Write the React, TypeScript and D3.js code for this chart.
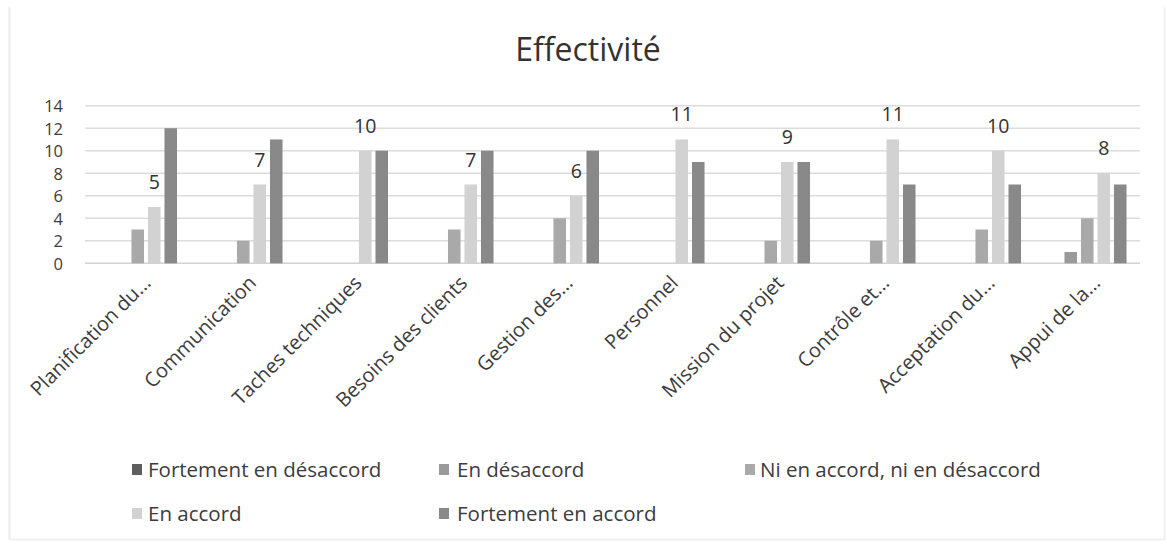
import React from 'react';
import * as d3 from 'd3';

const categories = [
  'Planification du...',
  'Communication',
  'Taches techniques',
  'Besoins des clients',
  'Gestion des...',
  'Personnel',
  'Mission du projet',
  'Contrôle et...',
  'Acceptation du...',
  'Appui de la...',
];
const seriesNames = [
  'Fortement en désaccord',
  'En désaccord',
  'Ni en accord, ni en désaccord',
  'En accord',
  'Fortement en accord',
];
const fortementEnDesaccord = [0, 0, 0, 0, 0, 0, 0, 0, 0, 0];
const enDesaccord = [0, 0, 0, 0, 0, 0, 0, 0, 0, 1];
const niEnAccordNiEnDesaccord = [3, 2, 0, 3, 4, 0, 2, 2, 3, 4];
const enAccord = [5, 7, 10, 7, 6, 11, 9, 11, 10, 8];
const fortementEnAccord = [12, 11, 10, 10, 10, 9, 9, 7, 7, 7];
const yTicks = [0, 2, 4, 6, 8, 10, 12, 14];
const labelledSeries = 3; // data labels on "En accord"

const seriesValues = [fortementEnDesaccord, enDesaccord, niEnAccordNiEnDesaccord, enAccord, fortementEnAccord];
const seriesColors = ['#5e5e5e', '#9a9a9a', '#a9a9a9', '#d2d2d2', '#898989'];

const FONT = "'Open Sans', 'DejaVu Sans', sans-serif";

export default function App() {
  const W = 1167;
  const H = 546;
  const plotLeft = 85;
  const plotRight = 1140;
  const plotTop = 105.7;
  const plotBottom = 263.3;

  const x0 = d3.scaleBand<string>().domain(categories).range([plotLeft, plotRight]).paddingInner(0.218).paddingOuter(0.109);
  const x1 = d3.scaleBand<string>().domain(seriesNames).range([0, x0.bandwidth()]).paddingInner(0.24).paddingOuter(0.12);
  const y = d3.scaleLinear().domain([0, 14]).range([plotBottom, plotTop]);

  const legendSwatchX = [132, 439, 745];
  const legendTextX = [148, 457, 760];
  const legendRows = [477, 521];

  return (
    <svg width={W} height={H} style={{ position: 'absolute', left: 0, top: 0, background: '#fff' }} fontFamily={FONT}>
      <rect x={0} y={0} width={W} height={H} fill="#fff" />
      <line x1={9.5} y1={7} x2={9.5} y2={540} stroke="#ececec" strokeWidth={2} />
      <line x1={1164.5} y1={7} x2={1164.5} y2={540} stroke="#f2f2f2" strokeWidth={2} />
      <line x1={9} y1={539.5} x2={1165} y2={539.5} stroke="#f0f0f0" strokeWidth={2} />

      <text x={588} y={61} textAnchor="middle" fontSize={32} fill="#333">Effectivité</text>

      {yTicks.map((t) => (
        <g key={t}>
          <line x1={plotLeft} x2={plotRight} y1={y(t)} y2={y(t)} stroke={t === 0 ? '#d2d2d2' : '#dcdcdc'} strokeWidth={1.4} />
          <text x={63} y={y(t) + 6.5} textAnchor="end" fontSize={16.5} fill="#3c3c3c">{t}</text>
        </g>
      ))}

      {categories.map((c, ci) => (
        <g key={c} transform={`translate(${x0(c)},0)`}>
          {seriesNames.map((s, si) => {
            const v = seriesValues[si][ci];
            if (!v) return null;
            return (
              <rect key={s} x={x1(s)} y={y(v)} width={x1.bandwidth()} height={y(0) - y(v)} fill={seriesColors[si]} />
            );
          })}
          <text
            x={(x1(seriesNames[labelledSeries]) as number) + x1.bandwidth() / 2}
            y={y(seriesValues[labelledSeries][ci]) - 18}
            textAnchor="middle"
            fontSize={19.5}
            fill="#333"
          >
            {seriesValues[labelledSeries][ci]}
          </text>
        </g>
      ))}

      {categories.map((c) => {
        const cx = (x0(c) as number) + x0.bandwidth() / 2;
        return (
          <text
            key={c}
            transform={`translate(${cx + 4},${274}) rotate(-45)`}
            textAnchor="end"
            dy="0.72em"
            fontSize={20}
            fill="#3c3c3c"
          >
            {c}
          </text>
        );
      })}

      {seriesNames.map((s, i) => {
        const col = i < 3 ? i : i - 3;
        const row = i < 3 ? 0 : 1;
        const ly = legendRows[row];
        return (
          <g key={s}>
            <rect x={legendSwatchX[col]} y={ly - 13} width={10} height={11} fill={seriesColors[i]} />
            <text x={legendTextX[col]} y={ly} fontSize={20.5} fill="#3c3c3c">{s}</text>
          </g>
        );
      })}
    </svg>
  );
}
